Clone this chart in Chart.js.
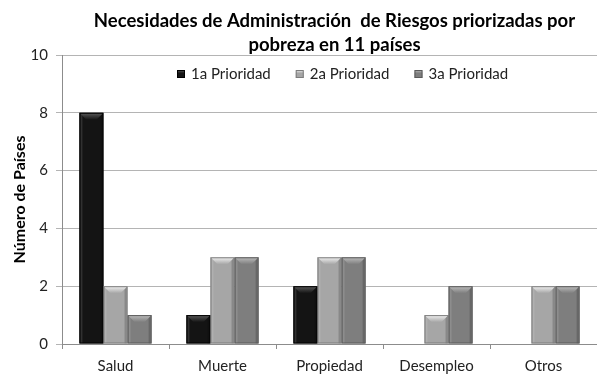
<!DOCTYPE html>
<html lang="es">
<head>
    <meta charset="UTF-8">
    <title>Necesidades de Administración de Riesgos</title>
    <script src="https://cdn.jsdelivr.net/npm/chart.js"></script>
    <style>
        html, body {
            margin: 0;
            padding: 0;
            background: #fff;
        }
        .chart-box {
            width: 597px;
            height: 374px;
        }
    </style>
</head>
<body>
    <div class="chart-box">
        <canvas id="riesgosChart"></canvas>
    </div>

    <script>
        // Datos
        const categorias = ['Salud', 'Muerte', 'Propiedad', 'Desempleo', 'Otros'];
        const prioridad1 = [8, 1, 2, 0, 0];
        const prioridad2 = [2, 3, 3, 1, 2];
        const prioridad3 = [1, 3, 3, 2, 2];
        const ticksY = [0, 2, 4, 6, 8, 10];
        const titulo = ['Necesidades de Administración  de Riesgos priorizadas por', 'pobreza en 11 países'];

        const FUENTE = 'Lato, "Open Sans", sans-serif';

        // colores de cada serie: cuerpo, bisel superior, borde
        const estilos = [
            { body: '#141414', top: '#5c5c5c', edge: '#000000' },
            { body: '#a6a6a6', top: '#f2f2f2', edge: '#7c7c7c' },
            { body: '#7e7e7e', top: '#bdbdbd', edge: '#5a5a5a' }
        ];

        // Título centrado sobre el área del gráfico
        const tituloPlugin = {
            id: 'tituloPlugin',
            afterDraw(chart) {
                const ctx = chart.ctx;
                const area = chart.chartArea;
                const cx = (area.left + area.right) / 2 + 5;
                ctx.save();
                ctx.font = 'bold 18.5px ' + FUENTE;
                ctx.fillStyle = '#000';
                ctx.textAlign = 'center';
                ctx.textBaseline = 'middle';
                ctx.fillText(titulo[0], cx, 21);
                ctx.fillText(titulo[1], cx, 45);
                ctx.restore();
            }
        };

        // Leyenda horizontal dentro del área del gráfico
        const leyendaPlugin = {
            id: 'leyendaPlugin',
            afterDraw(chart) {
                const ctx = chart.ctx;
                const area = chart.chartArea;
                const y = area.top + 19;
                let x = area.left + 115;
                ctx.save();
                ctx.font = '15px ' + FUENTE;
                ctx.textBaseline = 'middle';
                ctx.textAlign = 'left';
                chart.data.datasets.forEach((ds, i) => {
                    const st = estilos[i];
                    const g = ctx.createLinearGradient(0, y - 4, 0, y + 4);
                    g.addColorStop(0, st.top);
                    g.addColorStop(0.4, st.body);
                    g.addColorStop(1, st.body);
                    ctx.fillStyle = g;
                    ctx.fillRect(x, y - 4, 8, 8);
                    ctx.strokeStyle = st.edge;
                    ctx.lineWidth = 1;
                    ctx.strokeRect(x + 0.5, y - 3.5, 7, 7);
                    ctx.fillStyle = '#222';
                    ctx.fillText(ds.label, x + 14, y);
                    x += 14 + ctx.measureText(ds.label).width + 25;
                });
                ctx.restore();
            }
        };

        // Efecto de bisel en las barras
        const biselPlugin = {
            id: 'biselPlugin',
            afterDatasetsDraw(chart) {
                const ctx = chart.ctx;
                chart.data.datasets.forEach((ds, i) => {
                    const meta = chart.getDatasetMeta(i);
                    const st = estilos[i];
                    meta.data.forEach(bar => {
                        const h = bar.base - bar.y;
                        if (h <= 0.5) return;
                        const l = bar.x - bar.width / 2;
                        const r = bar.x + bar.width / 2;
                        const t = bar.y;
                        const b = Math.min(7, h);
                        ctx.save();
                        // bordes laterales
                        ctx.fillStyle = 'rgba(255,255,255,0.12)';
                        ctx.fillRect(l + 1, t, 2, h);
                        ctx.fillStyle = 'rgba(0,0,0,0.18)';
                        ctx.fillRect(r - 3, t, 2, h);
                        // bisel superior
                        const g = ctx.createLinearGradient(0, t, 0, t + b);
                        g.addColorStop(0, st.top);
                        g.addColorStop(1, st.body);
                        ctx.fillStyle = g;
                        ctx.beginPath();
                        ctx.moveTo(l, t);
                        ctx.lineTo(r, t);
                        ctx.lineTo(r - b, t + b);
                        ctx.lineTo(l + b, t + b);
                        ctx.closePath();
                        ctx.fill();
                        // contorno
                        ctx.strokeStyle = st.edge;
                        ctx.lineWidth = 1;
                        ctx.strokeRect(l + 0.5, t + 0.5, bar.width - 1, h - 1);
                        ctx.restore();
                    });
                });
            }
        };

        const ctx = document.getElementById('riesgosChart').getContext('2d');
        new Chart(ctx, {
            type: 'bar',
            data: {
                labels: categorias,
                datasets: [
                    { label: '1a Prioridad', data: prioridad1, backgroundColor: estilos[0].body },
                    { label: '2a Prioridad', data: prioridad2, backgroundColor: estilos[1].body },
                    { label: '3a Prioridad', data: prioridad3, backgroundColor: estilos[2].body }
                ]
            },
            options: {
                responsive: true,
                maintainAspectRatio: false,
                animation: false,
                categoryPercentage: 0.675,
                barPercentage: 1,
                layout: {
                    padding: { top: 55, right: 0, left: 0, bottom: 0 }
                },
                plugins: {
                    tooltip: { enabled: false },
                    legend: { display: false }
                },
                scales: {
                    x: {
                        grid: {
                            offset: true,
                            drawOnChartArea: false,
                            tickLength: 5,
                            color: '#8c8c8c'
                        },
                        border: { color: '#8c8c8c' },
                        ticks: {
                            font: { family: FUENTE, size: 15 },
                            color: '#222',
                            padding: 8
                        },
                        afterFit(scale) { scale.height = 30; }
                    },
                    y: {
                        min: 0,
                        max: 10,
                        afterBuildTicks(scale) {
                            scale.ticks = ticksY.map(v => ({ value: v }));
                        },
                        grid: {
                            color: '#b4b4b4',
                            tickLength: 6
                        },
                        border: { color: '#8c8c8c' },
                        ticks: {
                            font: { family: FUENTE, size: 15 },
                            color: '#222',
                            padding: 8
                        },
                        title: {
                            display: true,
                            text: 'Número de Países',
                            font: { family: FUENTE, size: 16, weight: 'bold' },
                            color: '#000',
                            padding: { top: 10, bottom: 0 }
                        },
                        afterFit(scale) { scale.width = 62; }
                    }
                }
            },
            plugins: [tituloPlugin, leyendaPlugin, biselPlugin]
        });
    </script>
</body>
</html>
